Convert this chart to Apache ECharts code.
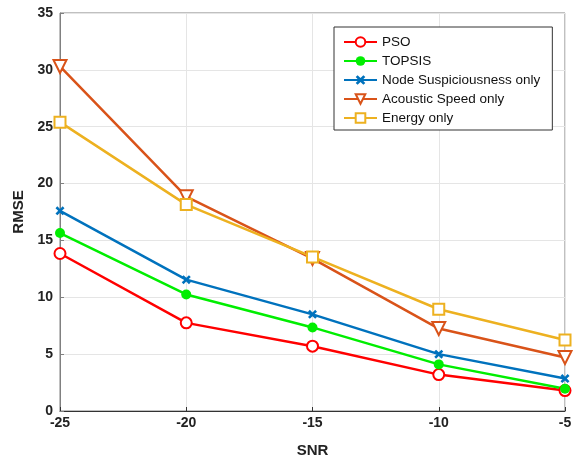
<!DOCTYPE html>
<html>
<head>
<meta charset="utf-8">
<script src="https://cdn.jsdelivr.net/npm/echarts@6/dist/echarts.min.js"></script>
<style>html,body{margin:0;padding:0;background:#fff;}#c{width:578px;height:464px;}</style>
</head>
<body>
<div id="c"></div>
<script>
var snr = [-25, -20, -15, -10, -5];
var pso = [13.85, 7.75, 5.7, 3.2, 1.8];
var topsis = [15.65, 10.25, 7.35, 4.1, 1.95];
var nodeOnly = [17.6, 11.55, 8.5, 5.0, 2.85];
var acoustic = [30.3, 18.85, 13.4, 7.25, 4.7];
var energy = [25.4, 18.15, 13.55, 8.95, 6.25];
var yTicks = [0, 5, 10, 15, 20, 25, 30, 35];

function pts(v){ return snr.map(function(x,i){ return [x, v[i]]; }); }
var xPath = 'path://M2,0L5,3L8,0L10,2L7,5L10,8L8,10L5,7L2,10L0,8L3,5L0,2Z';

var chart = echarts.init(document.getElementById('c'));
var font = 'Arial, "Liberation Sans", sans-serif';
function ser(name, data, color, symbol, size, extra){
  var s = {
    name: name, type: 'line', data: pts(data), symbol: symbol, symbolSize: size,
    lineStyle: {color: color, width: 2.5},
    itemStyle: {color: color, borderColor: color, borderWidth: 2.5},
    emphasis: {disabled: true}, animation: false, z: 3
  };
  if (extra) for (var k in extra) s[k] = extra[k];
  return s;
}
chart.setOption({
  backgroundColor: '#fff',
  animation: false,
  grid: {left: 60, right: 13, top: 13, bottom: 53, show: true, borderColor: '#808080', borderWidth: 1},
  legend: {
    orient: 'vertical', left: 334, top: 27,
    backgroundColor: '#fff', borderColor: '#333', borderWidth: 1,
    padding: [8, 12, 5, 9], itemWidth: 33, itemHeight: 12, itemGap: 5,
    textStyle: {fontFamily: font, fontSize: 13.5, lineHeight: 14, color: '#111'},
    data: ['PSO', 'TOPSIS', 'Node Suspiciousness only', 'Acoustic Speed only', 'Energy only']
  },
  xAxis: {
    type: 'value', min: -25, max: -5, interval: 5,
    name: 'SNR', nameLocation: 'middle', nameGap: 32,
    nameTextStyle: {fontFamily: font, fontSize: 15, fontWeight: 'bold', color: '#222'},
    axisLine: {show: true, lineStyle: {color: '#333'}},
    axisTick: {inside: true, length: 4, lineStyle: {color: '#333'}},
    axisLabel: {fontFamily: font, fontSize: 14, fontWeight: 'bold', color: '#222', margin: 5},
    splitLine: {show: true, lineStyle: {color: '#e5e5e5'}}
  },
  yAxis: {
    type: 'value', min: 0, max: 35, interval: 5,
    name: 'RMSE', nameLocation: 'middle', nameGap: 26,
    nameTextStyle: {fontFamily: font, fontSize: 15, fontWeight: 'bold', color: '#222'},
    axisLine: {show: true, lineStyle: {color: '#808080'}},
    axisTick: {inside: true, length: 4, lineStyle: {color: '#808080'}},
    axisLabel: {fontFamily: font, fontSize: 14, fontWeight: 'bold', color: '#222', margin: 7,
      formatter: function(v){ return yTicks.indexOf(v) >= 0 ? String(v) : ''; }},
    splitLine: {show: true, lineStyle: {color: '#e5e5e5'}}
  },
  series: [
    ser('PSO', pso, '#ff0000', 'emptyCircle', 11, {itemStyle: {color: '#ff0000', borderColor: '#ff0000', borderWidth: 2.5}}),
    ser('TOPSIS', topsis, '#00ee00', 'circle', 10, {itemStyle: {color: '#00ee00', borderWidth: 0}}),
    ser('Node Suspiciousness only', nodeOnly, '#0072bd', xPath, 9, {itemStyle: {color: '#0072bd', borderWidth: 0}}),
    ser('Acoustic Speed only', acoustic, '#d95319', 'emptyTriangle', 13, {symbolRotate: 180, itemStyle: {color: '#d95319', borderColor: '#d95319', borderWidth: 2.5}}),
    ser('Energy only', energy, '#edb120', 'emptyRect', 11, {itemStyle: {color: '#edb120', borderColor: '#edb120', borderWidth: 2.5}})
  ]
});
</script>
</body>
</html>
